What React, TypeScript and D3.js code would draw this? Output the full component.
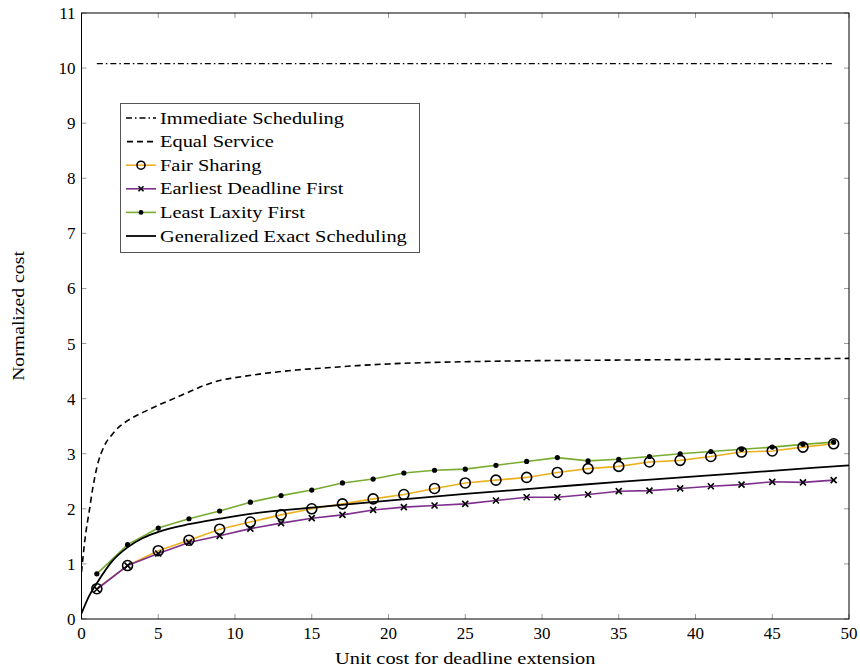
import React, { useEffect, useRef } from "react";
import * as d3 from "d3";

const xOdd = [1, 3, 5, 7, 9, 11, 13, 15, 17, 19, 21, 23, 25, 27, 29, 31, 33, 35, 37, 39, 41, 43, 45, 47, 49];
const fairSharing = [0.55, 0.97, 1.24, 1.43, 1.63, 1.76, 1.89, 2.0, 2.09, 2.18, 2.26, 2.37, 2.47, 2.52, 2.57, 2.66, 2.73, 2.77, 2.85, 2.88, 2.95, 3.03, 3.05, 3.12, 3.18];
const edf = [0.54, 0.97, 1.19, 1.39, 1.51, 1.64, 1.74, 1.83, 1.89, 1.98, 2.03, 2.06, 2.09, 2.15, 2.21, 2.21, 2.26, 2.32, 2.33, 2.37, 2.41, 2.44, 2.49, 2.48, 2.52];
const llf = [0.82, 1.35, 1.65, 1.82, 1.96, 2.12, 2.24, 2.34, 2.47, 2.54, 2.65, 2.7, 2.72, 2.79, 2.86, 2.93, 2.87, 2.9, 2.95, 3.0, 3.04, 3.08, 3.12, 3.17, 3.21];

const immX = [1, 49];
const immY = [10.08, 10.08];

const esX = [0, 0.25, 0.5, 0.75, 1, 1.5, 2, 2.5, 3, 4, 5, 6, 7, 8, 9, 10, 12, 14, 16, 18, 20, 25, 30, 35, 40, 45, 50];
const esY = [0.85, 1.5, 1.95, 2.4, 2.75, 3.15, 3.35, 3.5, 3.6, 3.75, 3.88, 4.0, 4.12, 4.24, 4.33, 4.38, 4.46, 4.52, 4.56, 4.6, 4.63, 4.67, 4.69, 4.7, 4.71, 4.72, 4.73];

const gesX = [0, 0.5, 1, 2, 3, 4, 5, 7, 9, 11, 15, 20, 25, 30, 35, 40, 45, 50];
const gesY = [0.1, 0.42, 0.65, 1.05, 1.3, 1.47, 1.58, 1.72, 1.82, 1.91, 2.02, 2.15, 2.27, 2.38, 2.49, 2.59, 2.69, 2.79];

const xTicks = [0, 5, 10, 15, 20, 25, 30, 35, 40, 45, 50];
const yTicks = [0, 1, 2, 3, 4, 5, 6, 7, 8, 9, 10, 11];

const legendLabels = [
  "Immediate Scheduling",
  "Equal Service",
  "Fair Sharing",
  "Earliest Deadline First",
  "Least Laxity First",
  "Generalized Exact Scheduling",
];

const ORANGE = "#EDB120";
const PURPLE = "#7E2F8E";
const GREEN = "#77AC30";
const FONT = "'Liberation Serif', 'Times New Roman', serif";
const SX = 1.2;

export default function App() {
  const ref = useRef<SVGSVGElement>(null);

  useEffect(() => {
    const svg = d3.select(ref.current);
    svg.selectAll("*").remove();
    const L = 81.5, R = 849, T = 13, B = 619;
    const x = d3.scaleLinear().domain([0, 50]).range([L, R]);
    const y = d3.scaleLinear().domain([0, 11]).range([B, T]);

    const g = svg.append("g");

    const tickColor = "#999";
    const tl = 5;
    xTicks.forEach((t) => {
      g.append("line").attr("x1", x(t)).attr("x2", x(t)).attr("y1", B).attr("y2", B - tl).attr("stroke", tickColor);
      g.append("line").attr("x1", x(t)).attr("x2", x(t)).attr("y1", T).attr("y2", T + tl).attr("stroke", tickColor);
      g.append("text").attr("x", x(t)).attr("y", B + 20).attr("text-anchor", "middle")
        .attr("font-family", FONT).attr("font-size", 17).text(String(t));
    });
    yTicks.forEach((t) => {
      g.append("line").attr("x1", L).attr("x2", L + tl).attr("y1", y(t)).attr("y2", y(t)).attr("stroke", tickColor);
      g.append("line").attr("x1", R).attr("x2", R - tl).attr("y1", y(t)).attr("y2", y(t)).attr("stroke", tickColor);
      g.append("text").attr("x", L - 6).attr("y", y(t) + 6).attr("text-anchor", "end")
        .attr("font-family", FONT).attr("font-size", 17).text(String(t));
    });

    const line = d3.line<[number, number]>().x((d) => x(d[0])).y((d) => y(d[1]));
    const smooth = d3.line<[number, number]>().x((d) => x(d[0])).y((d) => y(d[1])).curve(d3.curveMonotoneX);

    const clip = svg.append("defs").append("clipPath").attr("id", "clip");
    clip.append("rect").attr("x", L).attr("y", T).attr("width", R - L).attr("height", B - T);
    const plot = g.append("g").attr("clip-path", "url(#clip)");

    plot.append("path").datum(immX.map((v, i) => [v, immY[i]] as [number, number]))
      .attr("d", line).attr("fill", "none").attr("stroke", "#000").attr("stroke-width", 1.3)
      .attr("stroke-dasharray", "6,3,1.5,3");

    plot.append("path").datum(esX.map((v, i) => [v, esY[i]] as [number, number]))
      .attr("d", smooth).attr("fill", "none").attr("stroke", "#000").attr("stroke-width", 1.6)
      .attr("stroke-dasharray", "6,4");

    const fs = xOdd.map((v, i) => [v, fairSharing[i]] as [number, number]);
    plot.append("path").datum(fs).attr("d", line).attr("fill", "none").attr("stroke", ORANGE).attr("stroke-width", 1.6);

    const ed = xOdd.map((v, i) => [v, edf[i]] as [number, number]);
    plot.append("path").datum(ed).attr("d", line).attr("fill", "none").attr("stroke", PURPLE).attr("stroke-width", 1.6);

    const ll = xOdd.map((v, i) => [v, llf[i]] as [number, number]);
    plot.append("path").datum(ll).attr("d", line).attr("fill", "none").attr("stroke", GREEN).attr("stroke-width", 1.6);

    plot.append("path").datum(gesX.map((v, i) => [v, gesY[i]] as [number, number]))
      .attr("d", smooth).attr("fill", "none").attr("stroke", "#000").attr("stroke-width", 1.8);

    fs.forEach((d) => {
      g.append("circle").attr("cx", x(d[0])).attr("cy", y(d[1])).attr("r", 5).attr("fill", "none").attr("stroke", "#000").attr("stroke-width", 1.6);
    });
    const cross = (gg: any, cx: number, cy: number, s: number) => {
      gg.append("path").attr("d", `M${cx - s},${cy - s}L${cx + s},${cy + s}M${cx - s},${cy + s}L${cx + s},${cy - s}`)
        .attr("stroke", "#000").attr("stroke-width", 1.6).attr("fill", "none");
    };
    ed.forEach((d) => cross(g, x(d[0]), y(d[1]), 3));
    ll.forEach((d) => {
      g.append("circle").attr("cx", x(d[0])).attr("cy", y(d[1])).attr("r", 2.6).attr("fill", "#000");
    });

    g.append("rect").attr("x", L).attr("y", T).attr("width", R - L).attr("height", B - T)
      .attr("fill", "none").attr("stroke", "#000").attr("stroke-width", 1);

    g.append("text").attr("transform", `translate(${(L + R) / 2},664) scale(${SX},1)`).attr("text-anchor", "middle")
      .attr("font-family", FONT).attr("font-size", 17).text("Unit cost for deadline extension");
    g.append("text").attr("transform", `translate(24,${(T + B) / 2}) rotate(-90) scale(1.16,1)`).attr("text-anchor", "middle")
      .attr("font-family", FONT).attr("font-size", 17).text("Normalized cost");

    const lg = g.append("g");
    lg.append("rect").attr("x", 120.5).attr("y", 103.5).attr("width", 299).attr("height", 149)
      .attr("fill", "#fff").attr("stroke", "#555").attr("stroke-width", 1);
    const rowY = (i: number) => 118 + i * 23.6;
    const lx1 = 126, lx2 = 156;
    legendLabels.forEach((lab, i) => {
      const yy = rowY(i);
      const ln = lg.append("line").attr("x1", lx1).attr("x2", lx2).attr("y1", yy).attr("y2", yy).attr("fill", "none");
      if (i === 0) ln.attr("stroke", "#000").attr("stroke-width", 1.3).attr("stroke-dasharray", "6,3,1.5,3");
      if (i === 1) ln.attr("stroke", "#000").attr("stroke-width", 1.6).attr("stroke-dasharray", "6,4").attr("x1", lx1 + 1);
      if (i === 2) ln.attr("stroke", ORANGE).attr("stroke-width", 1.6);
      if (i === 3) ln.attr("stroke", PURPLE).attr("stroke-width", 1.6);
      if (i === 4) ln.attr("stroke", GREEN).attr("stroke-width", 1.6);
      if (i === 5) ln.attr("stroke", "#000").attr("stroke-width", 1.8);
      const mx = (lx1 + lx2) / 2;
      if (i === 2) lg.append("circle").attr("cx", mx).attr("cy", yy).attr("r", 4).attr("fill", "none").attr("stroke", "#000").attr("stroke-width", 1.6);
      if (i === 3) cross(lg, mx, yy, 2.5);
      if (i === 4) lg.append("circle").attr("cx", mx).attr("cy", yy).attr("r", 2.4).attr("fill", "#000");
      lg.append("text").attr("transform", `translate(160,${yy + 5.5}) scale(${SX},1)`)
        .attr("font-family", FONT).attr("font-size", 17).text(lab);
    });
  }, []);

  return (
    <svg ref={ref} width={860} height={672} style={{ position: "absolute", left: 0, top: 0, background: "#fff" }} />
  );
}
